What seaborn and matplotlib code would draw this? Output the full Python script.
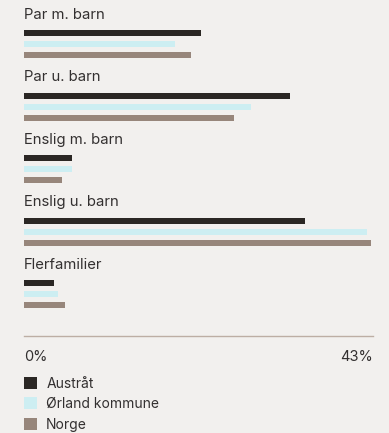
import matplotlib
matplotlib.use("Agg")
import matplotlib.pyplot as plt
import seaborn as sns
import pandas as pd

categories = ["Par m. barn", "Par u. barn", "Enslig m. barn", "Enslig u. barn", "Flerfamilier"]
austratt = [21.8, 32.7, 5.9, 34.6, 3.7]
orland = [18.6, 27.9, 5.9, 42.2, 4.2]
norge = [20.5, 25.9, 4.7, 42.7, 5.1]
series_names = ["Austråt", "Ørland kommune", "Norge"]
colors = ["#2b2724", "#cdeef2", "#97867b"]
x_max = 43
tick_labels = ["0%", "43%"]

bg = "#f2f0ee"
text_color = "#333030"

rows = []
for name, vals in zip(series_names, [austratt, orland, norge]):
    for c, v in zip(categories, vals):
        rows.append({"category": c, "value": v, "series": name})
df = pd.DataFrame(rows)

sns.set_style("white")
plt.rcParams["font.family"] = ["Inter", "DejaVu Sans"]

W, H = 389, 433
fig = plt.figure(figsize=(W / 100, H / 100), dpi=100, facecolor=bg)
ax_left = 24 / W
ax_right = 373.3 / W
ax_bottom = (H - 336) / H
ax = fig.add_axes([ax_left, ax_bottom, ax_right - ax_left, 336 / H])
ax.set_facecolor(bg)

sns.barplot(data=df, y="category", x="value", hue="series", orient="h",
            palette=colors, hue_order=series_names, order=categories,
            width=0.53, gap=0.45, saturation=1, linewidth=0, ax=ax)

ax.set_xlim(0, x_max)
ax.set_ylim(4.668, -0.71)
ax.set_ylabel("")
ax.set_xlabel("")
ax.set_yticks([])
for s in ["top", "right", "left"]:
    ax.spines[s].set_visible(False)
ax.spines["bottom"].set_color("#bdaea4")
ax.spines["bottom"].set_linewidth(1.0)

ax.set_xticks([0, x_max])
ax.set_xticklabels(tick_labels, fontsize=10.5, color=text_color)
lbls = ax.get_xticklabels()
lbls[0].set_ha("left")
lbls[1].set_ha("right")
ax.tick_params(axis="x", length=0, pad=10)

for i, c in enumerate(categories):
    ax.text(0, i - 0.47, c, va="center", ha="left", fontsize=10.7, color=text_color)

handles, labels = ax.get_legend_handles_labels()
ax.get_legend().remove()
fig.legend(handles, labels, loc="upper left", bbox_to_anchor=(24 / W, 1 - 377 / H),
           frameon=False, fontsize=10, handlelength=0.95, handleheight=0.95,
           handletextpad=0.65, labelspacing=0.45, borderpad=0, borderaxespad=0,
           labelcolor=text_color)

fig.savefig("out.png", dpi=100, facecolor=bg)
